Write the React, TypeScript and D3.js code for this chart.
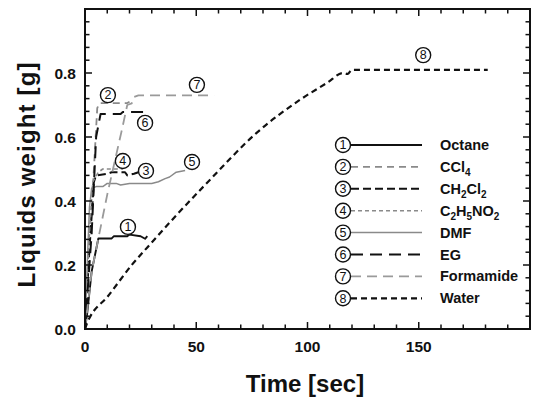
import React, { useEffect, useRef } from 'react';
import * as d3 from 'd3';

type Pt = [number, number];

// time [sec], weight [g]
const octane: Pt[] = [[0, 0], [1, 0.05], [3, 0.18], [6, 0.283], [12, 0.283], [13, 0.29], [19, 0.29], [20, 0.295], [25, 0.29], [27, 0.282], [28, 0.29]];
const ccl4: Pt[] = [[0, 0], [2, 0.25], [4, 0.5], [5.5, 0.69], [6.5, 0.706], [19, 0.706], [20, 0.71]];
const ch2cl2: Pt[] = [[0, 0], [2, 0.25], [4, 0.46], [5, 0.48], [10, 0.485], [12, 0.49], [18, 0.49], [19, 0.48], [22, 0.485], [24, 0.49]];
const c2h5no2: Pt[] = [[0, 0], [2, 0.3], [3.5, 0.46], [6, 0.49], [8, 0.5], [17, 0.5]];
const dmf: Pt[] = [[0, 0], [1, 0.2], [2, 0.38], [3, 0.44], [5, 0.445], [8, 0.445], [10, 0.455], [14, 0.455], [16, 0.45], [20, 0.455], [30, 0.455], [33, 0.46], [36, 0.47], [38, 0.475], [41, 0.49], [45, 0.495]];
const eg: Pt[] = [[0, 0], [3, 0.3], [5, 0.6], [7, 0.672], [16, 0.672], [17, 0.678], [28, 0.678]];
const formamide: Pt[] = [[0, 0], [3, 0.18], [10, 0.42], [16.5, 0.62], [19, 0.7], [21, 0.705], [22, 0.725], [24, 0.73], [58, 0.73]];
const water: Pt[] = [[0, 0], [1, 0.02], [2.2, 0.037], [10, 0.1], [21, 0.2], [28, 0.255], [41, 0.355], [56, 0.465], [77, 0.612], [97, 0.718], [109, 0.77], [116, 0.8], [118, 0.797], [120, 0.81], [181, 0.81]];

const seriesData = [octane, ccl4, ch2cl2, c2h5no2, dmf, eg, formamide, water];
const legendNames = ['Octane', 'CCl4', 'CH2Cl2', 'C2H5NO2', 'DMF', 'EG', 'Formamide', 'Water'];
// where the circled numbers sit on the curves (data coords)
const markerAt: Pt[] = [[19.3, 0.319], [10.3, 0.731], [27.4, 0.494], [17, 0.525], [48.1, 0.522], [27, 0.644], [50.3, 0.763], [152, 0.856]];

const xMajor = [0, 50, 100, 150];
const yMajor = [0, 0.2, 0.4, 0.6, 0.8];

const styles = [
  { color: '#111', dash: null, width: 1.9 },
  { color: '#8a8a8a', dash: '7,5', width: 1.8 },
  { color: '#111', dash: '8,4', width: 2 },
  { color: '#8a8a8a', dash: '4,3', width: 1.6 },
  { color: '#8a8a8a', dash: null, width: 1.5 },
  { color: '#111', dash: '12,7', width: 2 },
  { color: '#9a9a9a', dash: '10,6', width: 1.8 },
  { color: '#111', dash: '6,4', width: 2.2 },
];

const FONT = '"Liberation Sans", Arial, sans-serif';

const App = () => {
  const ref = useRef<SVGSVGElement>(null);

  useEffect(() => {
    const width = 533;
    const height = 400;
    const left = 85, right = 530, top = 9, bottom = 329;

    const x = d3.scaleLinear().domain([0, 200]).range([left, right]);
    const y = d3.scaleLinear().domain([0, 1]).range([bottom, top]);

    const svg = d3.select(ref.current);
    svg.selectAll('*').remove();
    svg.attr('width', width).attr('height', height);
    svg.append('rect').attr('width', width).attr('height', height).attr('fill', '#fff');

    // curves (water is a smooth uptake, the rest are stepwise)
    const line = d3.line<Pt>().x((d) => x(d[0])).y((d) => y(d[1]));
    const smooth = d3.line<Pt>().x((d) => x(d[0])).y((d) => y(d[1])).curve(d3.curveMonotoneX);
    seriesData.forEach((d, i) => {
      const s = styles[i];
      svg
        .append('path')
        .attr('d', d === water ? smooth(d) : line(d))
        .attr('fill', 'none')
        .attr('stroke', s.color)
        .attr('stroke-width', s.width)
        .attr('stroke-dasharray', s.dash)
        .attr('stroke-linejoin', 'round');
    });

    const circled = (g, cx, cy, n) => {
      g.append('circle')
        .attr('cx', cx)
        .attr('cy', cy)
        .attr('r', 7.5)
        .attr('fill', '#fff')
        .attr('stroke', '#111')
        .attr('stroke-width', 1.4);
      g.append('text')
        .attr('x', cx)
        .attr('y', cy + 4.3)
        .attr('text-anchor', 'middle')
        .attr('font-family', FONT)
        .attr('font-size', 12.5)
        .attr('fill', '#111')
        .text(n);
    };

    // numbers on curves
    markerAt.forEach((p, i) => circled(svg, x(p[0]), y(p[1]), i + 1));

    // axes: ticks on all four sides, pointing in
    const xMinor = d3.range(10, 200, 10);
    const yMinor = d3.range(1, 25).map((k) => +(k * 0.04).toFixed(2));
    const axes = svg.append('g').attr('stroke', '#111');

    xMinor.forEach((t) => {
      const len = t % 50 === 0 ? 7 : 4.5;
      axes.append('line').attr('x1', x(t)).attr('x2', x(t)).attr('y1', bottom).attr('y2', bottom - len).attr('stroke-width', 1.5);
      axes.append('line').attr('x1', x(t)).attr('x2', x(t)).attr('y1', top).attr('y2', top + len).attr('stroke-width', 1.5);
    });
    yMinor.forEach((v) => {
      const len = Math.abs(v / 0.2 - Math.round(v / 0.2)) < 1e-6 ? 7 : 4.5;
      axes.append('line').attr('x1', left).attr('x2', left + len).attr('y1', y(v)).attr('y2', y(v)).attr('stroke-width', 1.5);
      axes.append('line').attr('x1', right).attr('x2', right - len).attr('y1', y(v)).attr('y2', y(v)).attr('stroke-width', 1.5);
    });

    axes
      .append('rect')
      .attr('x', left)
      .attr('y', top)
      .attr('width', right - left)
      .attr('height', bottom - top)
      .attr('fill', 'none')
      .attr('stroke-width', 2);

    svg
      .append('g')
      .selectAll('text')
      .data(xMajor)
      .join('text')
      .attr('x', (d) => x(d))
      .attr('y', bottom + 23)
      .attr('text-anchor', 'middle')
      .attr('font-family', FONT)
      .attr('font-weight', 'bold')
      .attr('font-size', 15.5)
      .attr('fill', '#111')
      .text((d) => d);

    svg
      .append('g')
      .selectAll('text')
      .data(yMajor)
      .join('text')
      .attr('x', left - 9)
      .attr('y', (d) => y(d) + 5.5)
      .attr('text-anchor', 'end')
      .attr('font-family', FONT)
      .attr('font-weight', 'bold')
      .attr('font-size', 15.5)
      .attr('fill', '#111')
      .text((d) => d.toFixed(1));

    svg
      .append('text')
      .attr('x', 305)
      .attr('y', 392)
      .attr('text-anchor', 'middle')
      .attr('font-family', FONT)
      .attr('font-weight', 'bold')
      .attr('font-size', 24)
      .attr('fill', '#111')
      .text('Time [sec]');

    svg
      .append('text')
      .attr('transform', 'translate(35,175) rotate(-90)')
      .attr('text-anchor', 'middle')
      .attr('font-family', FONT)
      .attr('font-weight', 'bold')
      .attr('font-size', 24)
      .attr('textLength', 225)
      .attr('fill', '#111')
      .text('Liquids weight [g]');

    // legend
    const legend = svg.append('g');
    legendNames.forEach((name, i) => {
      const ly = 145 + i * 21.9;
      const s = styles[i];
      legend
        .append('line')
        .attr('x1', 351)
        .attr('x2', 422)
        .attr('y1', ly)
        .attr('y2', ly)
        .attr('stroke', s.color)
        .attr('stroke-width', s.width)
        .attr('stroke-dasharray', s.dash);
      circled(legend, 343, ly, i + 1);

      const t = legend
        .append('text')
        .attr('x', 440)
        .attr('y', ly + 5)
        .attr('font-family', FONT)
        .attr('font-weight', 'bold')
        .attr('font-size', 14.5)
        .attr('fill', '#111');
      // digits in formulas become subscripts
      const parts = name.split(/(\d)/).filter((p) => p !== '');
      let sub = false;
      parts.forEach((p) => {
        const isNum = /^\d$/.test(p);
        t.append('tspan')
          .attr('dy', isNum && !sub ? 4 : !isNum && sub ? -4 : 0)
          .attr('font-size', isNum ? 10 : 14.5)
          .text(p);
        sub = isNum;
      });
    });
  }, []);

  return (
    <svg ref={ref} style={{ position: 'absolute', left: 0, top: 0, display: 'block' }}></svg>
  );
};

export default App;
